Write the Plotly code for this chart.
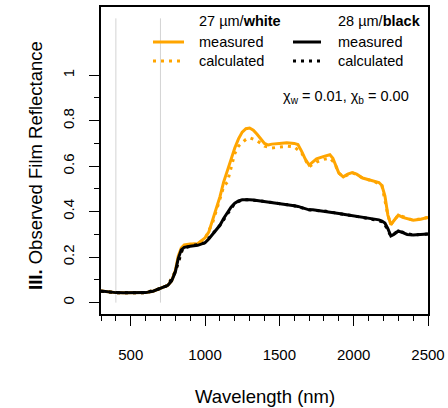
import plotly.graph_objects as go

# ---------------- data ----------------
wl_meas = [300, 350, 400, 450, 500, 550, 600, 650, 700, 725, 750, 775, 800, 820, 840, 860, 880, 900,
           950, 1000, 1025, 1050, 1075, 1100, 1125, 1150, 1175, 1200, 1225, 1250, 1275, 1300, 1325,
           1350, 1375, 1400, 1425, 1450, 1500, 1550, 1600, 1625, 1650, 1675, 1700, 1725, 1750, 1800,
           1840, 1860, 1880, 1900, 1930, 1960, 1990, 2020, 2060, 2100, 2140, 2170, 2190, 2210, 2230,
           2250, 2270, 2300, 2330, 2360, 2400, 2450, 2500]

white_meas = [0.051, 0.047, 0.044, 0.043, 0.043, 0.043, 0.044, 0.050, 0.062, 0.068, 0.076, 0.095,
              0.140, 0.205, 0.240, 0.254, 0.257, 0.258, 0.259, 0.285, 0.310, 0.360, 0.405, 0.465,
              0.530, 0.585, 0.630, 0.680, 0.720, 0.750, 0.765, 0.768, 0.758, 0.740, 0.720, 0.700,
              0.693, 0.697, 0.700, 0.703, 0.700, 0.695, 0.665, 0.630, 0.605, 0.618, 0.632, 0.643,
              0.650, 0.635, 0.600, 0.570, 0.553, 0.565, 0.572, 0.565, 0.548, 0.540, 0.532, 0.528,
              0.515, 0.470, 0.385, 0.343, 0.360, 0.385, 0.375, 0.368, 0.362, 0.367, 0.375]

black_meas = [0.051, 0.047, 0.044, 0.043, 0.043, 0.043, 0.044, 0.050, 0.062, 0.068, 0.076, 0.095,
              0.135, 0.195, 0.232, 0.243, 0.247, 0.248, 0.252, 0.263, 0.280, 0.300, 0.320, 0.340,
              0.370, 0.395, 0.420, 0.437, 0.447, 0.452, 0.453, 0.452, 0.451, 0.449, 0.447, 0.445,
              0.443, 0.441, 0.437, 0.432, 0.426, 0.423, 0.418, 0.411, 0.408, 0.408, 0.406, 0.403,
              0.398, 0.396, 0.394, 0.392, 0.389, 0.386, 0.383, 0.380, 0.376, 0.370, 0.367, 0.364,
              0.359, 0.350, 0.325, 0.293, 0.300, 0.315, 0.308, 0.300, 0.297, 0.298, 0.302]

wl_calc_white = [300, 400, 500, 600, 700, 750, 800, 850, 900, 950, 1000, 1050, 1100, 1125, 1150,
                 1175, 1200, 1225, 1250, 1275, 1300, 1325, 1350, 1375, 1400, 1450, 1500, 1550, 1600,
                 1650, 1700, 1750, 1800, 1840, 1870, 1900, 1930, 1990, 2060, 2140, 2190, 2230, 2250,
                 2300, 2400, 2500]
white_calc = [0.050, 0.044, 0.043, 0.044, 0.062, 0.076, 0.137, 0.245, 0.256, 0.258, 0.282, 0.350,
              0.455, 0.510, 0.530, 0.595, 0.655, 0.688, 0.705, 0.718, 0.725, 0.720, 0.712, 0.700,
              0.688, 0.680, 0.685, 0.688, 0.685, 0.658, 0.598, 0.618, 0.630, 0.635, 0.615, 0.570,
              0.553, 0.572, 0.548, 0.532, 0.515, 0.385, 0.343, 0.385, 0.362, 0.375]

wl_calc_black = [300, 400, 500, 600, 700, 750, 800, 850, 900, 1000, 1100, 1200, 1250, 1300, 1400,
                 1500, 1600, 1700, 1800, 1900, 2000, 2100, 2200, 2250, 2300, 2400, 2500]
black_calc = [0.050, 0.044, 0.043, 0.044, 0.062, 0.076, 0.135, 0.238, 0.248, 0.263, 0.340, 0.437,
              0.452, 0.452, 0.445, 0.437, 0.426, 0.408, 0.403, 0.392, 0.382, 0.370, 0.355, 0.293,
              0.315, 0.297, 0.302]

vline_x = [400, 700]
vline_y = [0, 1.25]

x_ticks = [500, 1000, 1500, 2000, 2500]
y_ticks = [0, 0.2, 0.4, 0.6, 0.8, 1]
y_ticktext = ["0", "0.2", "0.4", "0.6", "0.8", "1"]
y_minor = [0.1, 0.3, 0.5, 0.7, 0.9]

ORANGE = "#FFA500"
FONT = "Liberation Sans, Arial, sans-serif"

fig = go.Figure()
for vx in vline_x:
    fig.add_trace(go.Scatter(x=[vx, vx], y=vline_y, mode="lines",
                             line=dict(color="#D3D3D3", width=1), hoverinfo="skip"))

fig.add_trace(go.Scatter(x=wl_calc_white, y=white_calc, mode="lines",
                         line=dict(color=ORANGE, width=3, dash="3px,5px")))
fig.add_trace(go.Scatter(x=wl_meas, y=white_meas, mode="lines",
                         line=dict(color=ORANGE, width=3)))
fig.add_trace(go.Scatter(x=wl_calc_black, y=black_calc, mode="lines",
                         line=dict(color="black", width=3, dash="3px,5px")))
fig.add_trace(go.Scatter(x=wl_meas, y=black_meas, mode="lines",
                         line=dict(color="black", width=3)))

L, R, T, B = 101, 20, 7, 94
W, H = 448, 408
PW, PH = W - L - R, H - T - B


def px(x):
    return (x - L) / PW


def py(y):
    return (H - B - y) / PH


fig.update_layout(
    width=W, height=H,
    margin=dict(l=L, r=R, t=T, b=B, autoexpand=False),
    paper_bgcolor="white", plot_bgcolor="white",
    showlegend=False,
    font=dict(family=FONT, color="black", size=15),
    xaxis=dict(range=[300, 2500], tickmode="array", tickvals=x_ticks,
               ticks="outside", ticklen=10, tickwidth=1, tickcolor="black",
               showline=True, mirror=True, linecolor="black", linewidth=1.5,
               showgrid=False, zeroline=False, ticklabelstandoff=16,
               tickfont=dict(size=15),
               minor=dict(tickmode="linear", tick0=300, dtick=100, ticks="outside",
                          ticklen=5, tickwidth=1, tickcolor="black", showgrid=False)),
    yaxis=dict(range=[-0.05, 1.3], tickmode="array", tickvals=y_ticks, ticktext=y_ticktext,
               ticks="outside", ticklen=10, tickwidth=1, tickcolor="black", tickangle=-90,
               showline=True, mirror=True, linecolor="black", linewidth=1.5,
               showgrid=False, zeroline=False, ticklabelstandoff=9,
               tickfont=dict(size=15),
               minor=dict(tickmode="array", tickvals=y_minor, ticks="outside",
                          ticklen=5, tickwidth=1, tickcolor="black", showgrid=False)),
)

ann = []
ann.append(dict(text="Wavelength (nm)", x=0.5, y=0, xref="paper", yref="paper",
                xanchor="center", yanchor="middle", yshift=-82, showarrow=False,
                font=dict(size=18.5)))
ann.append(dict(text="<b>III.</b> Observed Film Reflectance", x=0, y=py(166),
                xref="paper", yref="paper", xanchor="center", yanchor="middle",
                xshift=35 - L, textangle=-90, showarrow=False, font=dict(size=18.5)))

leg_font = dict(size=14.5)
ann.append(dict(text="27 µm/<b>white</b>", x=px(197), y=py(21), xref="paper", yref="paper",
                xanchor="left", yanchor="middle", showarrow=False, font=leg_font))
ann.append(dict(text="28 µm/<b>black</b>", x=px(335.5), y=py(21), xref="paper", yref="paper",
                xanchor="left", yanchor="middle", showarrow=False, font=leg_font))
for lx in (197, 335.5):
    ann.append(dict(text="measured", x=px(lx), y=py(42), xref="paper", yref="paper",
                    xanchor="left", yanchor="middle", showarrow=False, font=leg_font))
    ann.append(dict(text="calculated", x=px(lx), y=py(61), xref="paper", yref="paper",
                    xanchor="left", yanchor="middle", showarrow=False, font=leg_font))
ann.append(dict(text="χ<sub>w</sub> = 0.01, χ<sub>b</sub> = 0.00", x=px(411), y=py(97),
                xref="paper", yref="paper", xanchor="right", yanchor="middle",
                showarrow=False, font=dict(size=14.5)))
fig.update_layout(annotations=ann)

shapes = []
for (x0, x1, col) in ((153, 184, ORANGE), (293, 321, "black")):
    shapes.append(dict(type="line", xref="paper", yref="paper", x0=px(x0), x1=px(x1),
                       y0=py(42), y1=py(42), line=dict(color=col, width=3)))
    shapes.append(dict(type="line", xref="paper", yref="paper", x0=px(x0), x1=px(x1),
                       y0=py(61), y1=py(61), line=dict(color=col, width=3, dash="3px,5px")))
fig.update_layout(shapes=shapes)

fig.write_html("out.html", config={"displayModeBar": False},
               post_script="document.body.style.margin='0';document.body.style.overflow='hidden';")
